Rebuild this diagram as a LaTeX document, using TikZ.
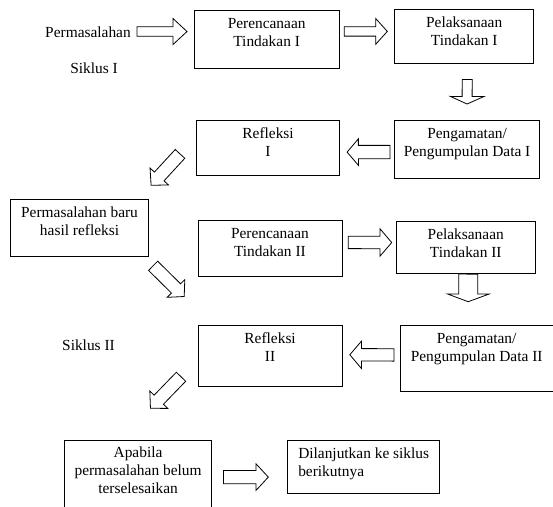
\documentclass[tikz,border=0pt]{standalone}
\usepackage{fontspec}
\setmainfont{Liberation Serif}
\usetikzlibrary{calc}
\tikzset{
  %% process box, text hangs from the top edge
  pbox/.style={
    draw=black, line width=0.8pt, inner sep=0pt,
    text height=18pt, anchor=north west
  },
  %% free text
  lbl/.style={anchor=base, inner sep=0pt},
  %% outlined block arrow
  blk/.style={draw=black, line width=0.8pt, fill=white, line join=miter},
}
\newcommand{\boxc}[1]{\begin{tabular}[t]{@{}c@{}}#1\end{tabular}}
\newcommand{\boxl}[1]{\begin{tabular}[t]{@{}l@{}}#1\end{tabular}}
%% block arrow: tail, tip, half shaft, half head, head length
\newcommand{\barrow}[5]{%
  \draw[blk] let \p1=(#1), \p2=(#2), \p3=($(\p2)!#5!(\p1)$) in
    ($(\p1)!#3!90:(\p2)$) -- ($(\p3)!#3!90:(\p2)$) -- ($(\p3)!#4!90:(\p2)$)
    -- (\p2) -- ($(\p3)!#4!-90:(\p2)$) -- ($(\p3)!#3!-90:(\p2)$)
    -- ($(\p1)!#3!-90:(\p2)$) -- cycle;}

\begin{document}
\begin{tikzpicture}[x=1pt, y=-1pt,
                    every node/.style={font=\fontsize{15.4}{18}\selectfont}]

  \path[use as bounding box, clip] (0,0) rectangle (553,506);

  \node[lbl] (perm) at (88,37.3) {Permasalahan};
  \node[lbl] (sik1) at (94,73.3) {Siklus I};
  \node[lbl] (sik2) at (88.5,350) {Siklus II};

  %% Siklus I
  \node[pbox, minimum width=144.5pt, text depth=40pt] (perenc1) at (194,10)
       {\boxc{Perencanaan\\Tindakan I}};
  \node[pbox, minimum width=139pt, text depth=35.4pt] (laks1) at (394.3,9.3)
       {\boxc{Pelaksanaan\\Tindakan I}};
  \node[pbox, minimum width=145.3pt, text depth=40.3pt] (amat1) at (394,120)
       {\boxc{Pengamatan/\\Pengumpulan Data I}};
  \node[pbox, minimum width=143.3pt, text depth=37pt] (refl1) at (196,120)
       {\boxc{Refleksi\\I}};
  \node[pbox, minimum width=138.3pt, text depth=38.7pt] (baru) at (10,199.3)
       {\boxc{Permasalahan baru\\hasil refleksi}};

  %% Siklus II
  \node[pbox, minimum width=144pt, text depth=38pt] (perenc2) at (197.5,220)
       {\boxc{Perencanaan\\Tindakan II}};
  \node[pbox, minimum width=139.3pt, text depth=34.3pt] (laks2) at (395.7,221)
       {\boxc{Pelaksanaan\\Tindakan II}};
  \node[pbox, minimum width=152.5pt, text depth=48pt] (amat2) at (400,325)
       {\boxc{Pengamatan/\\Pengumpulan Data II}};
  \node[pbox, minimum width=144pt, text depth=42.7pt] (refl2) at (197.7,325)
       {\boxc{Refleksi\\II}};
  \node[pbox, minimum width=146.7pt, text depth=62pt] (apabila) at (64.3,439.5)
       {\boxc{Apabila\\permasalahan belum\\terselesaikan}};
  \node[pbox, minimum width=152pt, text depth=34.7pt] (lanjut) at (287.3,440)
       {\boxl{Dilanjutkan ke siklus\\berikutnya}};

  %% Block arrows
  \barrow{$(perm.east)+(6,-0.5)$}{$(perenc1.west |- perm.east)+(-7,-0.5)$}{4.8pt}{13pt}{14pt}
  \barrow{$(perenc1.east)+(5,-8)$}{$(laks1.west)+(-7,-5)$}{4.7pt}{12.8pt}{11.5pt}
  \barrow{$(laks1.south)+(3,16)$}{$(amat1.north)+(0,-16)$}{5pt}{16.7pt}{7.5pt}
  \barrow{$(amat1.west)+(-4,2.5)$}{$(refl1.east)+(7,4.2)$}{6.7pt}{13.3pt}{11.3pt}
  \barrow{$(refl1.west)+(-16,6)$}{$(baru.north east)+(2,-14)$}{6.5pt}{12.5pt}{12pt}
  \barrow{$(baru.south east)+(4,9)$}{$(refl2.north west)+(-13.5,-28.5)$}{6.5pt}{12.5pt}{11.5pt}
  \barrow{$(perenc2.east)+(6,-6)$}{$(laks2.west)+(-4,-5)$}{6.2pt}{13.7pt}{11.7pt}
  \barrow{$(laks2.south)+(2.5,0)$}{$(amat2.north)+(-8.5,-23.3)$}{9.5pt}{20.8pt}{7.7pt}
  \barrow{$(amat2.west)+(-6,-3.5)$}{$(refl2.east)+(7.3,-1)$}{6.2pt}{13.7pt}{11.7pt}
  \barrow{$(refl2.west)+(-16.7,21)$}{$(apabila.north)+(12.4,-31.2)$}{6.5pt}{12.5pt}{12pt}
  \barrow{$(apabila.east)+(11.7,-2.8)$}{$(lanjut.west)+(-19,10.35)$}{6.7pt}{13.3pt}{12.3pt}

\end{tikzpicture}
\end{document}
